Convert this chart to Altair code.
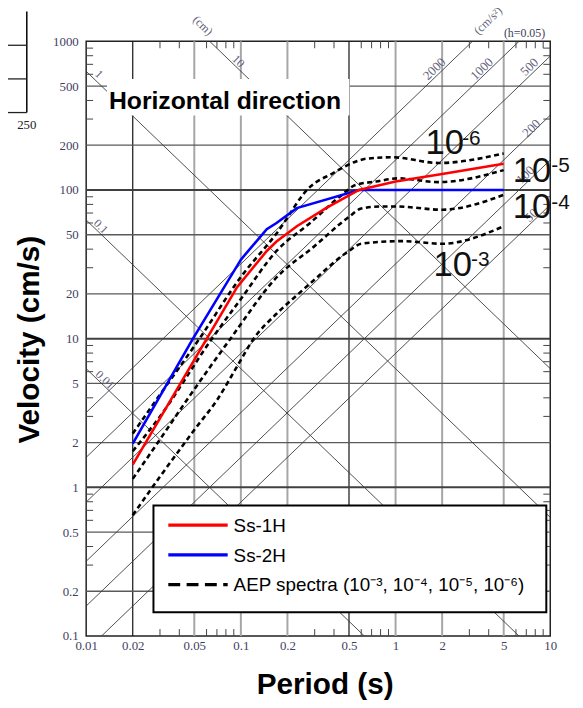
import math
import altair as alt
import pandas as pd

# ---------------- data ----------------
# Ss-1H (red)
ss1h_T = [0.02, 0.05, 0.0945, 0.147, 0.17, 0.23, 0.355, 0.58, 1.0, 2.0, 5.0]
ss1h_V = [1.42, 7.2, 22.2, 38.9, 45.0, 57.0, 75.5, 100.0, 114.0, 128.0, 150.0]
# Ss-2H (blue)
ss2h_T = [0.02, 0.049, 0.1, 0.147, 0.17, 0.23, 0.58, 5.0]
ss2h_V = [1.97, 10.0, 34.0, 54.5, 60.0, 75.5, 100.0, 100.0]
# AEP spectra (dashed)
aep_1e6_T = [0.02, 0.03, 0.054, 0.1, 0.17, 0.28, 0.39, 0.55, 0.64, 0.95, 1.9, 5.0]
aep_1e6_V = [2.3, 4.2, 10.0, 26.0, 51.0, 105.0, 129.0, 155.0, 162.0, 166.0, 152.0, 176.0]
aep_1e5_T = [0.02, 0.03, 0.065, 0.1, 0.17, 0.28, 0.45, 0.55, 0.75, 1.04, 1.9, 5.0]
aep_1e5_V = [1.75, 3.0, 10.0, 18.5, 38.9, 60.0, 92.7, 108.0, 114.0, 119.7, 113.0, 136.0]
aep_1e4_T = [0.02, 0.03, 0.045, 0.0857, 0.17, 0.3, 0.5, 0.6, 0.8, 1.0, 2.0, 5.0]
aep_1e4_V = [1.14, 2.1, 3.9, 10.0, 25.8, 42.0, 66.0, 75.0, 77.5, 77.5, 73.7, 92.7]
aep_1e3_T = [0.02, 0.03, 0.051, 0.0705, 0.0945, 0.121, 0.17, 0.229, 0.278, 0.5, 0.6, 1.1, 2.0, 5.0]
aep_1e3_V = [0.65, 1.18, 2.5, 3.9, 6.5, 10.0, 14.7, 19.5, 23.3, 38.9, 43.5, 45.3, 43.5, 57.0]

# axis / grid values
period_ticks = [0.01, 0.02, 0.05, 0.1, 0.2, 0.5, 1, 2, 5, 10]
velocity_ticks = [0.1, 0.2, 0.5, 1, 2, 5, 10, 20, 50, 100, 200, 500, 1000]
grid_T_gray = [0.05, 0.1, 0.2, 1, 2, 5]
grid_T_dark = [0.02, 0.5]
grid_V_thin = [0.2, 0.5, 2, 5, 20, 50, 200, 500]
grid_V_thick = [1, 10, 100]
minor_mult = [3, 4, 6, 7, 8, 9]
disp_cm = [0.01, 0.1, 1, 10]                 # displacement lines (cm)
accel_gal = [50, 100, 200, 500, 1000, 2000]  # acceleration lines (cm/s^2)

T_MIN, T_MAX = 0.01, 10
V_MIN, V_MAX = 0.1, 1000
W, H = 469, 601

# ---------------- tables ----------------
curves_red = pd.DataFrame({"T": ss1h_T, "V": ss1h_V})
curves_blue = pd.DataFrame({"T": ss2h_T, "V": ss2h_V})
aep_frames = []
for lvl, tt, vv in [("1e-6", aep_1e6_T, aep_1e6_V), ("1e-5", aep_1e5_T, aep_1e5_V),
                    ("1e-4", aep_1e4_T, aep_1e4_V), ("1e-3", aep_1e3_T, aep_1e3_V)]:
    aep_frames.append(pd.DataFrame({"T": tt, "V": vv, "level": lvl}))
aep = pd.concat(aep_frames, ignore_index=True)

diag = []
for d in disp_cm:
    c = 2 * math.pi * d
    t0 = max(T_MIN, c / V_MAX)
    t1 = min(T_MAX, c / V_MIN)
    diag.append({"T": t0, "V": c / t0, "t1": t1, "v1": c / t1})
for a in accel_gal:
    c = a / (2 * math.pi)
    t0 = max(T_MIN, V_MIN / c)
    t1 = min(T_MAX, V_MAX / c)
    diag.append({"T": t0, "V": c * t0, "t1": t1, "v1": c * t1})
diag = pd.DataFrame(diag)

minor_T = pd.DataFrame({"T": [m * 10.0 ** k for k in range(-2, 1) for m in minor_mult]})
minor_V = pd.DataFrame({"V": [m * 10.0 ** k for k in range(-1, 3) for m in minor_mult]})
dummy = pd.DataFrame({"k": [0]})

# ---------------- scales / axes ----------------
xs = alt.Scale(type="log", domain=[T_MIN, T_MAX], nice=False)
ys = alt.Scale(type="log", domain=[V_MIN, V_MAX], nice=False)
LABEL_FONT = "Liberation Serif"
LABEL_COLOR = "#3f3f62"

x_axis = alt.Axis(values=period_ticks, format="~g", grid=False, ticks=False, domain=False,
                  labelFont=LABEL_FONT, labelFontSize=13, labelColor=LABEL_COLOR,
                  labelPadding=4, labelFlush=False, labelOverlap=False,
                  title="Period (s)", titleFont="Liberation Sans", titleFontSize=30,
                  titleFontWeight="bold", titleColor="black", titleX=241, titleY=49,
                  titleAlign="center", titleBaseline="middle")
y_axis = alt.Axis(values=velocity_ticks, format="~g", grid=False, ticks=False, domain=False,
                  labelFont=LABEL_FONT, labelFontSize=13, labelColor=LABEL_COLOR,
                  labelPadding=8, labelFlush=False, labelOverlap=False,
                  title="Velocity (cm/s)", titleFont="Liberation Sans", titleFontSize=30,
                  titleFontWeight="bold", titleColor="black", titleAngle=270,
                  titleX=-57, titleY=301, titleAlign="center", titleBaseline="middle")


def X(f):
    return alt.X(f, type="quantitative", scale=xs, axis=x_axis)


def Y(f):
    return alt.Y(f, type="quantitative", scale=ys, axis=y_axis)


def txt(s, x, y, size, font="Liberation Sans", color="black", weight="normal",
        angle=0, align="center", baseline="middle"):
    return alt.Chart(dummy).mark_text(
        text=s, fontSize=size, font=font, color=color, fontWeight=weight,
        angle=angle, align=align, baseline=baseline
    ).encode(x=alt.value(x), y=alt.value(y))


layers = []
# grid
layers.append(alt.Chart(pd.DataFrame({"T": grid_T_gray})).mark_rule(color="#a6a6a6", strokeWidth=2)
              .encode(x=X("T")))
layers.append(alt.Chart(pd.DataFrame({"T": grid_T_dark})).mark_rule(color="#111111", strokeWidth=1.2)
              .encode(x=X("T")))
layers.append(alt.Chart(pd.DataFrame({"V": grid_V_thin})).mark_rule(color="#5a5a5a", strokeWidth=1.3)
              .encode(y=Y("V")))
layers.append(alt.Chart(pd.DataFrame({"V": grid_V_thick})).mark_rule(color="#404040", strokeWidth=2)
              .encode(y=Y("V")))
# tripartite diagonals
layers.append(alt.Chart(diag).mark_rule(color="#3a3a3a", strokeWidth=0.9, clip=True)
              .encode(x=X("T"), y=Y("V"), x2="t1", y2="v1"))
# minor ticks (inside)
layers.append(alt.Chart(minor_T).mark_rule(color="#444", strokeWidth=1)
              .encode(x=X("T"), y=alt.value(H), y2=alt.value(H - 7)))
layers.append(alt.Chart(minor_T).mark_rule(color="#444", strokeWidth=1)
              .encode(x=X("T"), y=alt.value(0), y2=alt.value(7)))
layers.append(alt.Chart(minor_V).mark_rule(color="#444", strokeWidth=1)
              .encode(y=Y("V"), x=alt.value(0), x2=alt.value(7)))
layers.append(alt.Chart(minor_V).mark_rule(color="#444", strokeWidth=1)
              .encode(y=Y("V"), x=alt.value(W), x2=alt.value(W - 7)))
# curves
layers.append(alt.Chart(aep).mark_line(color="black", strokeWidth=2.6, strokeDash=[5, 3.5],
                                       interpolate="monotone")
              .encode(x=X("T"), y=Y("V"), detail="level:N"))
layers.append(alt.Chart(curves_blue).mark_line(color="#0000ff", strokeWidth=2.6)
              .encode(x=X("T"), y=Y("V")))
layers.append(alt.Chart(curves_red).mark_line(color="#ff0000", strokeWidth=2.6)
              .encode(x=X("T"), y=Y("V")))

# title box
layers.append(alt.Chart(dummy).mark_rect(color="white")
              .encode(x=alt.value(21), x2=alt.value(266), y=alt.value(38), y2=alt.value(75)))
layers.append(txt("Horizontal direction", 23, 68, 25, weight="bold", align="left", baseline="alphabetic"))

# diagonal line labels
DC = "#60607a"
SF = "Liberation Serif"
layers += [
    txt("(cm)", 118, -16, 12, font=SF, color=DC, angle=44),
    txt("1", 13, 33, 12, font=SF, color=DC, angle=44),
    txt("10", 154, 20, 12, font=SF, color=DC, angle=44),
    txt("0.1", 15, 187, 12, font=SF, color=DC, angle=44),
    txt("0.01", 19, 342, 12, font=SF, color=DC, angle=44),
    txt("(cm/s²)", 406, -21, 12, font=SF, color=DC, angle=316),
    txt("(h=0.05)", 443, -8, 12, font=SF, color="#404060"),
    txt("2000", 352, 28, 13, font=SF, color=DC, angle=316),
    txt("1000", 400, 28, 13, font=SF, color=DC, angle=316),
    txt("500", 448, 26, 13, font=SF, color=DC, angle=316),
    txt("200", 450, 88, 13, font=SF, color=DC, angle=316),
    txt("100", 444, 135, 13, font=SF, color=DC, angle=316),
    txt("50", 450, 176, 13, font=SF, color=DC, angle=316),
]

# exceedance-probability labels
layers += [
    txt("10", 343, 114, 35, align="left", baseline="alphabetic", color="#111"),
    txt("-6", 380, 105, 21, align="left", baseline="alphabetic", color="#111"),
    txt("10", 431, 142, 35, align="left", baseline="alphabetic", color="#111"),
    txt("-5", 470, 132, 21, align="left", baseline="alphabetic", color="#111"),
    txt("10", 431, 179, 35, align="left", baseline="alphabetic", color="#111"),
    txt("-4", 470, 169, 21, align="left", baseline="alphabetic", color="#111"),
    txt("10", 351, 237, 35, align="left", baseline="alphabetic", color="#111"),
    txt("-3", 389, 227, 21, align="left", baseline="alphabetic", color="#111"),
]

# legend (drawn box)
layers.append(alt.Chart(dummy).mark_rect(fill="white", stroke="black", strokeWidth=2)
              .encode(x=alt.value(68), x2=alt.value(465), y=alt.value(469), y2=alt.value(577)))
layers.append(alt.Chart(dummy).mark_rule(color="#ff0000", strokeWidth=3.2)
              .encode(x=alt.value(83), x2=alt.value(143), y=alt.value(489)))
layers.append(alt.Chart(dummy).mark_rule(color="#0000ff", strokeWidth=3.2)
              .encode(x=alt.value(83), x2=alt.value(143), y=alt.value(519)))
layers.append(alt.Chart(dummy).mark_rule(color="black", strokeWidth=3.2, strokeDash=[12, 6.5])
              .encode(x=alt.value(83), x2=alt.value(143), y=alt.value(549)))
layers += [
    txt("Ss-1H", 149, 490, 19, align="left"),
    txt("Ss-2H", 149, 520, 19, align="left"),
    txt("AEP spectra (10⁻³, 10⁻⁴, 10⁻⁵, 10⁻⁶)", 149, 550, 19, align="left"),
]

# fragment of the neighbouring figure (top-left corner of the page)
layers.append(alt.Chart(dummy).mark_rule(color="black", strokeWidth=1.5)
              .encode(x=alt.value(-60), y=alt.value(-30), y2=alt.value(72)))
for yy in [4, 38, 72]:
    layers.append(alt.Chart(dummy).mark_rule(color="#222", strokeWidth=1.3)
                  .encode(x=alt.value(-80), x2=alt.value(-60), y=alt.value(yy)))
layers.append(txt("250", -60, 85, 13, font=SF, color="#222"))

chart = alt.layer(*layers).properties(
    width=W, height=H,
    autosize=alt.AutoSizeParams(type="none"),
    padding={"left": 79, "top": 30, "right": 25, "bottom": 61},
).configure_view(stroke="#222", strokeWidth=1.5)

chart.save("out.html", embed_options={"renderer": "svg", "actions": False})
